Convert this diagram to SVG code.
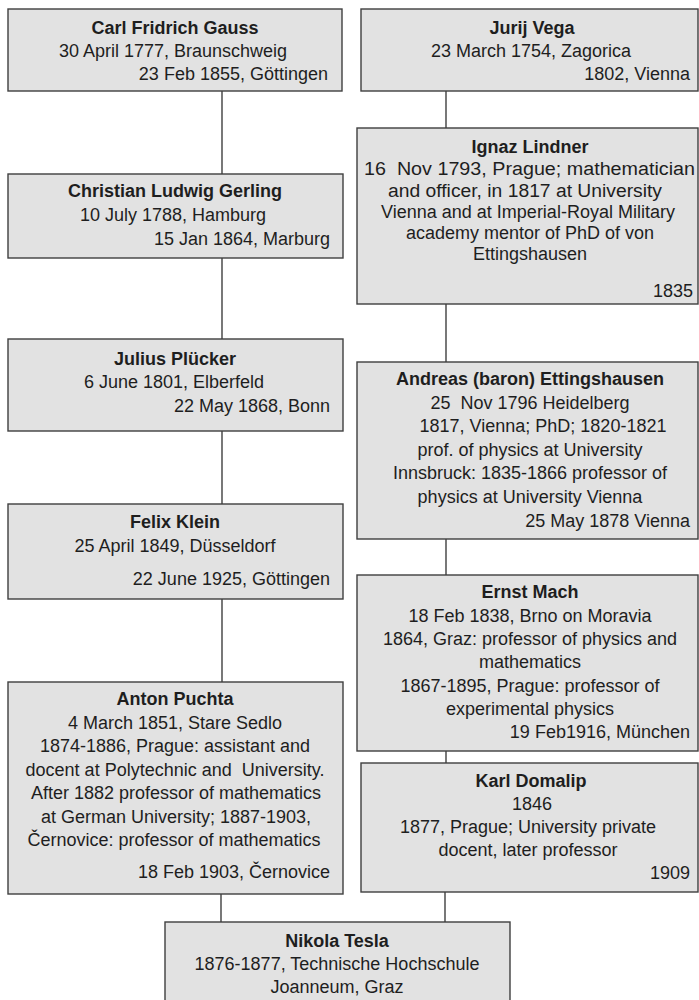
<svg xmlns="http://www.w3.org/2000/svg" width="699" height="1000" viewBox="0 0 699 1000">
<style>
.box{fill:#e2e2e2;stroke:#3f3f3f;stroke-width:1.4}
.t{font-family:"Liberation Sans",Arial,sans-serif;font-size:18px;fill:#1e1e1e}
.b{font-weight:bold}
.c{text-anchor:middle}
.r{text-anchor:end}
.con line{stroke:#3f3f3f;stroke-width:1.4}
</style>
<rect width="699" height="1000" fill="#ffffff"/>
<g class="con">
<line x1="222" y1="91" x2="222" y2="174"/>
<line x1="222" y1="258" x2="222" y2="339"/>
<line x1="222" y1="431" x2="222" y2="504"/>
<line x1="222" y1="599" x2="222" y2="682"/>
<line x1="221" y1="894" x2="221" y2="922"/>
<line x1="446" y1="91" x2="446" y2="128"/>
<line x1="446" y1="304" x2="446" y2="362"/>
<line x1="446" y1="539" x2="446" y2="575"/>
<line x1="446" y1="751" x2="446" y2="763"/>
<line x1="445" y1="892" x2="445" y2="922"/>
</g>
<g id="gauss">
<rect class="box" x="8" y="9" width="334" height="82"/>
<text class="t b c" x="175" y="34">Carl Fridrich Gauss</text>
<text class="t c" x="173" y="57">30 April 1777, Braunschweig</text>
<text class="t r" x="328" y="80">23 Feb 1855, Göttingen</text>
</g>
<g id="vega">
<rect class="box" x="361" y="9" width="337" height="82"/>
<text class="t b c" x="532" y="34">Jurij Vega</text>
<text class="t c" x="531" y="57">23 March 1754, Zagorica</text>
<text class="t r" x="690" y="80">1802, Vienna</text>
</g>
<g id="gerling">
<rect class="box" x="8" y="174" width="335" height="84"/>
<text class="t b c" x="175" y="197">Christian Ludwig Gerling</text>
<text class="t c" x="173" y="221">10 July 1788, Hamburg</text>
<text class="t r" x="330" y="245">15 Jan 1864, Marburg</text>
</g>
<g id="lindner">
<rect class="box" x="357" y="128" width="341" height="176"/>
<text class="t b c" x="530" y="153">Ignaz Lindner</text>
<text class="t c" x="529.5" y="175" textLength="331" lengthAdjust="spacingAndGlyphs" xml:space="preserve">16  Nov 1793, Prague; mathematician</text>
<text class="t c" x="525" y="197" textLength="274" lengthAdjust="spacingAndGlyphs">and officer, in 1817 at University</text>
<text class="t c" x="528" y="218">Vienna and at Imperial-Royal Military</text>
<text class="t c" x="530" y="239">academy mentor of PhD of von</text>
<text class="t c" x="530" y="260">Ettingshausen</text>
<text class="t r" x="693" y="297">1835</text>
</g>
<g id="pluecker">
<rect class="box" x="8" y="339" width="335" height="92"/>
<text class="t b c" x="175" y="365">Julius Plücker</text>
<text class="t c" x="174" y="388">6 June 1801, Elberfeld</text>
<text class="t r" x="330" y="412">22 May 1868, Bonn</text>
</g>
<g id="ettingshausen">
<rect class="box" x="357" y="362" width="341" height="177"/>
<text class="t b c" x="530" y="385">Andreas (baron) Ettingshausen</text>
<text class="t c" x="530" y="409" xml:space="preserve">25  Nov 1796 Heidelberg</text>
<text class="t c" x="543" y="432">1817, Vienna; PhD; 1820-1821</text>
<text class="t c" x="530" y="456">prof. of physics at University</text>
<text class="t c" x="530" y="479">Innsbruck: 1835-1866 professor of</text>
<text class="t c" x="530" y="503">physics at University Vienna</text>
<text class="t r" x="690" y="527">25 May 1878 Vienna</text>
</g>
<g id="klein">
<rect class="box" x="8" y="504" width="335" height="95"/>
<text class="t b c" x="175" y="528">Felix Klein</text>
<text class="t c" x="175" y="552">25 April 1849, Düsseldorf</text>
<text class="t r" x="330" y="585">22 June 1925, Göttingen</text>
</g>
<g id="mach">
<rect class="box" x="357" y="575" width="341" height="176"/>
<text class="t b c" x="530" y="598">Ernst Mach</text>
<text class="t c" x="530" y="622">18 Feb 1838, Brno on Moravia</text>
<text class="t c" x="530" y="645">1864, Graz: professor of physics and</text>
<text class="t c" x="530" y="668">mathematics</text>
<text class="t c" x="530" y="692">1867-1895, Prague: professor of</text>
<text class="t c" x="530" y="715">experimental physics</text>
<text class="t r" x="690" y="738">19 Feb1916, München</text>
</g>
<g id="puchta">
<rect class="box" x="8" y="682" width="335" height="212"/>
<text class="t b c" x="175" y="705">Anton Puchta</text>
<text class="t c" x="175" y="729">4 March 1851, Stare Sedlo</text>
<text class="t c" x="175" y="752">1874-1886, Prague: assistant and</text>
<text class="t c" x="175" y="776" xml:space="preserve">docent at Polytechnic and  University.</text>
<text class="t c" x="176" y="799">After 1882 professor of mathematics</text>
<text class="t c" x="176" y="823">at German University; 1887-1903,</text>
<text class="t c" x="174" y="846">Černovice: professor of mathematics</text>
<text class="t r" x="330" y="878">18 Feb 1903, Černovice</text>
</g>
<g id="domalip">
<rect class="box" x="361" y="763" width="337" height="129"/>
<text class="t b c" x="531" y="787">Karl Domalip</text>
<text class="t c" x="532" y="810">1846</text>
<text class="t c" x="528" y="833">1877, Prague; University private</text>
<text class="t c" x="528" y="856">docent, later professor</text>
<text class="t r" x="690" y="879">1909</text>
</g>
<g id="tesla">
<rect class="box" x="165" y="922" width="345" height="90"/>
<text class="t b c" x="337" y="947">Nikola Tesla</text>
<text class="t c" x="337" y="970">1876-1877, Technische Hochschule</text>
<text class="t c" x="337" y="993">Joanneum, Graz</text>
</g>
</svg>
